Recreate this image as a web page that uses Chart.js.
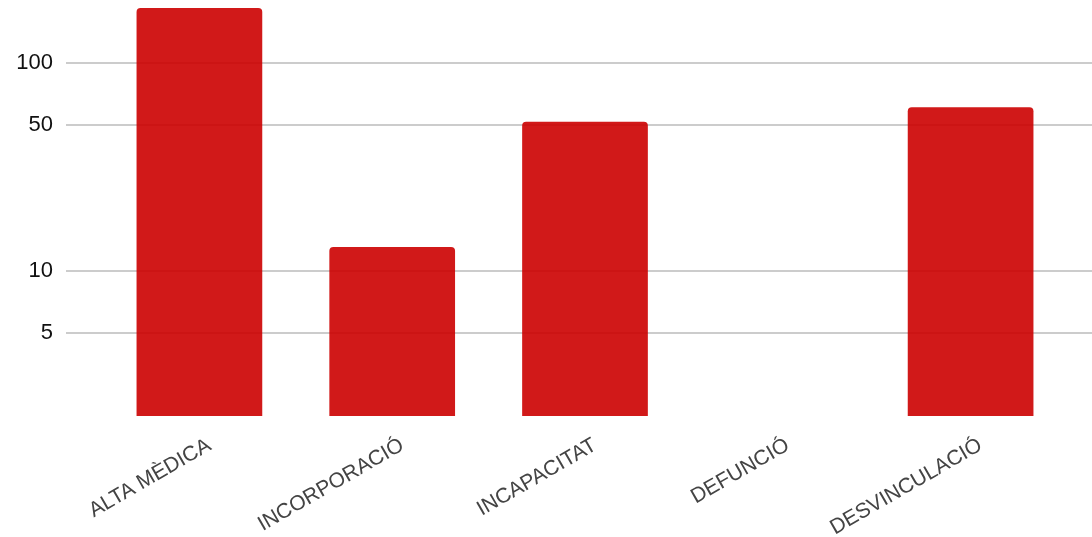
<!DOCTYPE html>
<html>
<head>
<meta charset="utf-8">
<script src="https://cdn.jsdelivr.net/npm/chart.js@4.4.1/dist/chart.umd.min.js"></script>
<style>
  body { margin: 0; background: #fff; }
  #caixa { width: 1092px; height: 537px; }
</style>
</head>
<body>
<div id="caixa"><canvas id="grafic"></canvas></div>
<script>
const categories = ["ALTA MÈDICA", "INCORPORACIÓ", "INCAPACITAT", "DEFUNCIÓ", "DESVINCULACIÓ"];
const valors = [183, 13, 52, 0, 61];
const ticksY = [5, 10, 50, 100];

// linies horitzontals que van mes enlla de l'area de barres
const graella = {
  id: "graella",
  beforeDatasetsDraw(chart) {
    const ctx = chart.ctx;
    const y = chart.scales.y;
    ctx.save();
    ctx.strokeStyle = "#cccccc";
    ctx.lineWidth = 2;
    y.ticks.forEach((t) => {
      const py = Math.round(y.getPixelForValue(t.value));
      ctx.beginPath();
      ctx.moveTo(66, py);
      ctx.lineTo(chart.width, py);
      ctx.stroke();
    });
    ctx.restore();
  },
};

const ctx = document.getElementById("grafic").getContext("2d");

new Chart(ctx, {
  type: "bar",
  data: {
    labels: categories,
    datasets: [
      {
        data: valors,
        backgroundColor: "rgba(204, 0, 0, 0.9)",
        borderRadius: 4,
        borderSkipped: "start",
        barPercentage: 0.652,
        categoryPercentage: 1,
      },
    ],
  },
  options: {
    responsive: true,
    maintainAspectRatio: false,
    animation: false,
    layout: { padding: { top: 0, left: 0, right: 25, bottom: 0 } },
    plugins: {
      legend: { display: false },
      tooltip: { enabled: false },
    },
    scales: {
      x: {
        grid: { display: false },
        border: { display: false },
        ticks: {
          color: "#444",
          font: { family: "Liberation Sans", size: 21 },
          minRotation: 30,
          maxRotation: 30,
          padding: 9,
          labelOffset: 10,
        },
        afterFit(scale) {
          scale.height = 121;
        },
      },
      y: {
        type: "logarithmic",
        bounds: "data",
        min: 2,
        max: 200,
        grid: { display: false, drawTicks: false },
        border: { display: false },
        afterBuildTicks(scale) {
          scale.ticks = ticksY.map((v) => ({ value: v }));
        },
        ticks: {
          color: "#111",
          font: { family: "Liberation Sans", size: 22 },
          padding: 50,
          callback: (v) => String(v),
        },
        afterFit(scale) {
          scale.width = 103;
          // el padding dels ticks no ha d'empenyer l'area cap avall
          scale.paddingTop = 0;
          scale.paddingBottom = 0;
        },
      },
    },
  },
  plugins: [graella],
});
</script>
</body>
</html>
